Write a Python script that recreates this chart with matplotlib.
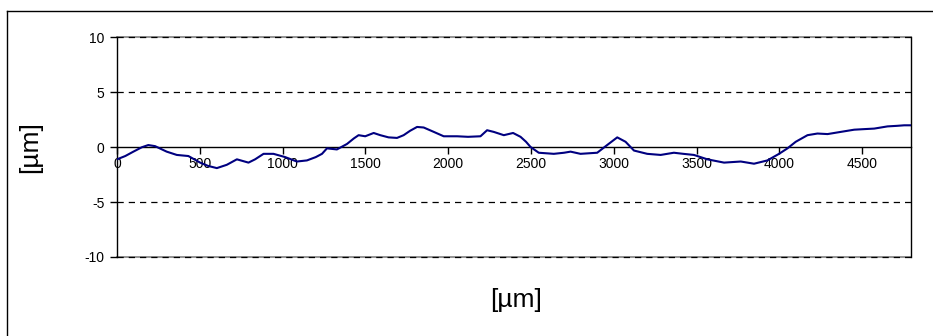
import matplotlib.pyplot as plt
from matplotlib.lines import Line2D

plt.rcParams['font.family'] = ['Liberation Sans', 'DejaVu Sans']
plt.rcParams['axes.unicode_minus'] = False

# profile: position [um] and height [um]
pos = [0, 50, 99, 150, 189, 230, 300, 361, 431, 502, 550, 603, 663, 724, 794,
       834, 885, 945, 1016, 1086, 1147, 1200, 1238, 1268, 1328, 1389, 1430, 1459,
       1499, 1550, 1590, 1640, 1691, 1731, 1770, 1812, 1852, 1913, 1973, 2054,
       2120, 2195, 2235, 2275, 2336, 2392, 2437, 2470, 2497, 2547, 2638, 2700,
       2739, 2799, 2900, 2960, 3021, 3071, 3122, 3202, 3283, 3363, 3420, 3484,
       3565, 3666, 3767, 3847, 3928, 3998, 4049, 4099, 4170, 4230, 4291, 4371,
       4452, 4510, 4573, 4653, 4710, 4754, 4794]
height = [-1.1, -0.8, -0.4, 0.0, 0.2, 0.1, -0.4, -0.7, -0.8, -1.4, -1.7, -1.9,
          -1.6, -1.1, -1.4, -1.1, -0.6, -0.6, -0.9, -1.3, -1.2, -0.9, -0.6, -0.1,
          -0.2, 0.3, 0.8, 1.1, 1.0, 1.3, 1.1, 0.9, 0.85, 1.1, 1.5, 1.85, 1.8, 1.4,
          1.0, 1.0, 0.95, 1.0, 1.55, 1.4, 1.1, 1.3, 0.95, 0.5, 0.03, -0.5, -0.6,
          -0.5, -0.4, -0.6, -0.5, 0.2, 0.9, 0.5, -0.3, -0.6, -0.7, -0.5, -0.6,
          -0.7, -1.1, -1.4, -1.3, -1.5, -1.2, -0.6, -0.1, 0.5, 1.1, 1.25, 1.2,
          1.4, 1.6, 1.65, 1.7, 1.9, 1.95, 2.0, 2.0]

x_ticks = [0, 500, 1000, 1500, 2000, 2500, 3000, 3500, 4000, 4500]
y_ticks = [-10, -5, 0, 5, 10]

fig = plt.figure(figsize=(9.33, 3.36), dpi=100)
ax = fig.add_axes([117 / 933, 1 - 257 / 336, 794 / 933, 219.5 / 336])

# plot area edges (grey) with dashed gridlines on top
for yv in [-10, 10]:
    ax.axhline(yv, color='#808080', lw=1.2, zorder=1, clip_on=False)
for yv in [-10, -5, 5, 10]:
    ax.axhline(yv, color='black', lw=0.9, ls=(0, (5, 4)), zorder=1.5, clip_on=False)

ax.plot(pos, height, color='#000080', lw=1.5, zorder=3)

ax.set_xlim(0, 4795)
ax.set_ylim(-10, 10)
ax.set_xticks(x_ticks)
ax.set_yticks(y_ticks)

ax.spines['top'].set_visible(False)
ax.spines['bottom'].set_position(('data', 0))
ax.spines['bottom'].set_zorder(2)
ax.spines['right'].set_color('black')
ax.spines['left'].set_color('black')
for s in ax.spines.values():
    s.set_linewidth(1)

ax.tick_params(axis='x', direction='out', length=5, width=1, labelsize=10, pad=2)
ax.tick_params(axis='y', direction='out', length=5, width=1, labelsize=10, pad=4)

fig.text(30 / 933, 1 - 147 / 336, '[µm]', rotation=90, ha='center', va='center',
         fontsize=19)
fig.text(516 / 933, 1 - 300 / 336, '[µm]', ha='center', va='center', fontsize=19)

# chart area border (only left and top visible)
fig.add_artist(Line2D([7.5 / 933, 7.5 / 933], [0, 1 - 10.5 / 336], color='black', lw=1))
fig.add_artist(Line2D([7.5 / 933, 1], [1 - 10.5 / 336, 1 - 10.5 / 336], color='black', lw=1))

fig.savefig('out.png', dpi=100)
